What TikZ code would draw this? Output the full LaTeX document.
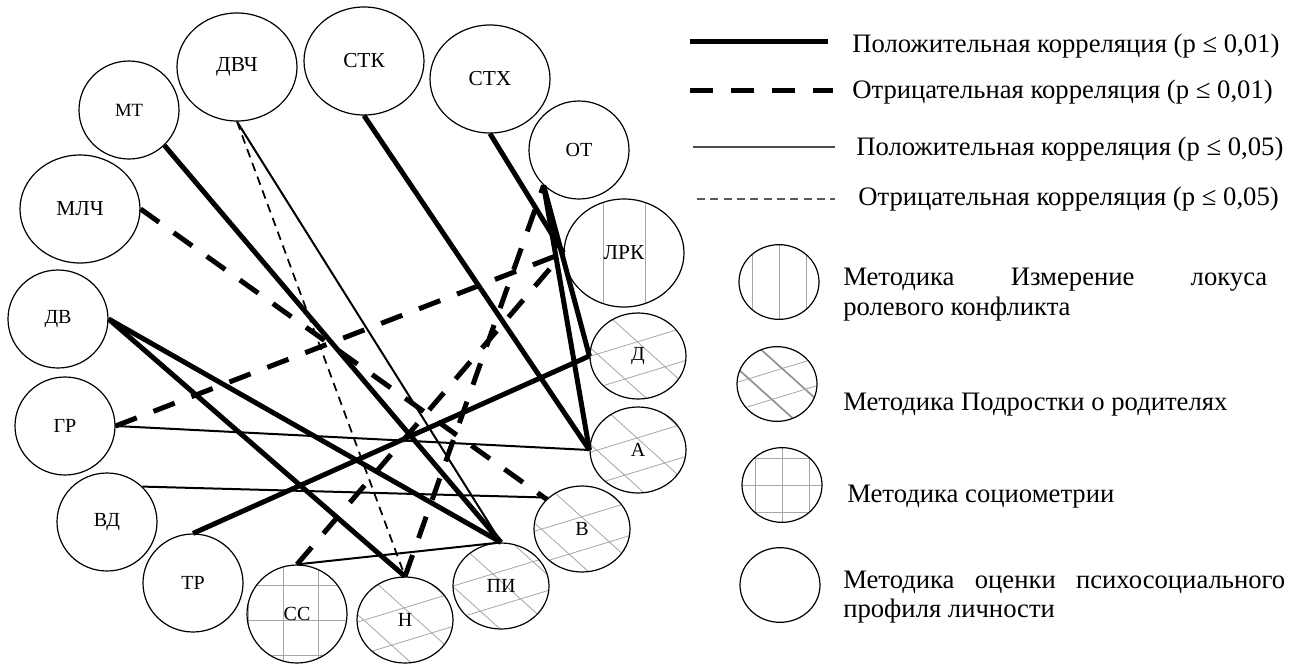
\documentclass[tikz,border=0pt]{standalone}
\usepackage{fontspec}
\setmainfont{Liberation Serif}
\usetikzlibrary{shapes.geometric}
\tikzset{
  circ/.style={ellipse, draw, line width=0.9pt, fill=white, inner sep=0pt, font=\fontsize{15}{17}\selectfont},
  big/.style={circ, minimum width=90pt, minimum height=81pt, font=\fontsize{16}{18}\selectfont},
  med/.style={circ, minimum width=75pt, minimum height=73.5pt},
  sml/.style={circ, minimum width=72pt, minimum height=64.5pt},
  leg/.style={circ, minimum width=60pt, minimum height=56pt},
  hatchline/.style={gray!70, line width=0.6pt},
  steephatch/.style={},
  vlines/.style={path picture={\begin{scope}[shift={(path picture bounding box.center)}]
      \foreach \k in {-1,0,1} \draw[hatchline] (\k*#1,-100) -- (\k*#1,100);
    \end{scope}}},
  gridlines/.style={path picture={\begin{scope}[shift={(path picture bounding box.center)}]
      \foreach \k in {-1,0,1} {\draw[hatchline] (\k*#1,-100) -- (\k*#1,100);
        \draw[hatchline] (-100,\k*#1) -- (100,\k*#1);}
    \end{scope}}},
  xhatch/.style={path picture={\begin{scope}[shift={(path picture bounding box.center)}]
      \foreach \k in {-1.5,-0.5,0.5,1.5} {
        \draw[hatchline] ({#1*(\k*32*0.292-100*0.956)},{#1*(\k*32*0.956+100*0.292)})
                      -- ({#1*(\k*32*0.292+100*0.956)},{#1*(\k*32*0.956-100*0.292)});
        \draw[hatchline, steephatch] ({#1*(-\k*36*0.669-100*0.743)},{#1*(\k*36*0.743-100*0.669)})
                      -- ({#1*(-\k*36*0.669+100*0.743)},{#1*(\k*36*0.743+100*0.669)});}
    \end{scope}}},
  pos1/.style={line width=3.75pt},
  neg1/.style={line width=3.75pt, dash pattern=on 17pt off 13.5pt},
  pos5/.style={line width=1.5pt},
  neg5/.style={line width=1.3pt, dash pattern=on 6.5pt off 4.5pt},
  legtext/.style={anchor=base west, inner sep=0pt, font=\fontsize{20}{23}\selectfont},
  legtextb/.style={legtext, font=\fontsize{20}{23}\selectfont},
}
\begin{document}
\begin{tikzpicture}[x=0.75pt, y=-0.75pt]
\useasboundingbox (0,0) rectangle (1299,664);

% circles
\node[big] (dvch) at (237,67) {ДВЧ};
\node[big] (stk) at (364,61) {СТК};
\node[big] (stx) at (490,79) {СТХ};
\node[med, font=\fontsize{14}{16}\selectfont] (mt) at (129,110) {МТ};
\node[big] (mlch) at (80,209) {МЛЧ};
\node[med] (dv) at (58,319) {ДВ};
\node[med] (gr) at (65,426) {ГР};
\node[med] (vd) at (107,522) {ВД};
\node[med] (tr) at (193,583) {ТР};
\node[med, gridlines=35] (ss) at (297,614) {СС};
\node[med] (ot) at (579,150) {ОТ};
\node[big, vlines=42] (lrk) at (624,253) {ЛРК};
\node[sml, xhatch=1] (n) at (405,620) {Н};
\node[sml, xhatch=1] (pi) at (501,586) {ПИ};
\node[sml, xhatch=1] (v) at (582,529) {В};
\node[sml, xhatch=1] (a) at (638,450) {А};
\node[sml, xhatch=1] (d) at (638,356) {Д};

% connectors
\draw[pos1] (mt.-45) -- (pi.north);
\draw[pos1] (stk.south) -- (a.west);
\draw[pos1] (stx.south) -- (lrk.west);
\draw[pos1] (ot.-135) -- (a.west);
\draw[pos1] (ot.-135) -- (d.west);
\draw[pos1] (dv.east) -- (pi.north);
\draw[pos1] (dv.east) -- (n.north);
\draw[pos1] (tr.north) -- (d.west);
\draw[neg1] (mlch.east) -- (v.140);
\draw[neg1] (gr.east) -- (lrk.west);
\draw[neg1] (ss.north) -- (lrk.west);
\draw[neg1] (n.north) -- (ot.-135);
\draw[pos5] (gr.east) -- (a.west);
\draw[pos5] (vd.45) -- (v.137);
\draw[pos5] (ss.north) -- (pi.north);
\draw[pos5] (dvch.south) -- (pi.north);
\draw[neg5] (dvch.south) -- (n.north);

% legend: line samples
\coordinate (l1a) at (690,41);  \coordinate (l1b) at (828,41);
\coordinate (l2a) at (690,90);  \coordinate (l2b) at (833,90);
\coordinate (l3a) at (693,147); \coordinate (l3b) at (835,147);
\coordinate (l4a) at (697,199); \coordinate (l4b) at (835,199);
\draw[line width=3.75pt] (l1a) -- (l1b);
\draw[line width=3.75pt, dash pattern=on 17.25pt off 13.5pt] (l2a) -- (l2b);
\draw[line width=2.2pt, black!70] (l3a) -- (l3b);
\draw[line width=2pt, black!65, dash pattern=on 6pt off 4pt] (l4a) -- (l4b);
\node[legtext] (t1) at (852,52) {Положительная корреляция (p ≤ 0,01)};
\node[legtext] (t2) at (852,98) {Отрицательная корреляция (p ≤ 0,01)};
\node[legtext] (t3) at (856,155) {Положительная корреляция (p ≤ 0,05)};
\node[legtext] (t4) at (858,205) {Отрицательная корреляция (p ≤ 0,05)};

% legend: methods
\node[leg, vlines=27] (k1) at (779,282) {};
\node[leg, xhatch=0.83, steephatch/.style={line width=1.3pt, gray!85}] (k2) at (777,384) {};
\node[leg, gridlines=27] (k3) at (782,485) {};
\node[leg] (k4) at (780,585) {};
\node[legtextb] (m1a) at (843,285) {\hbox to 318pt{Методика\hfill Измерение\hfill локуса}};
\node[legtextb] (m1b) at (843,315) {ролевого конфликта};
\node[legtextb] (m2) at (843,410) {Методика Подростки о родителях};
\node[legtextb] (m3) at (847,502) {Методика социометрии};
\node[legtextb] (m4a) at (843,588) {\hbox to 331.5pt{Методика\hfill оценки\hfill психосоциального}};
\node[legtextb] (m4b) at (843,617) {профиля личности};
\end{tikzpicture}
\end{document}
